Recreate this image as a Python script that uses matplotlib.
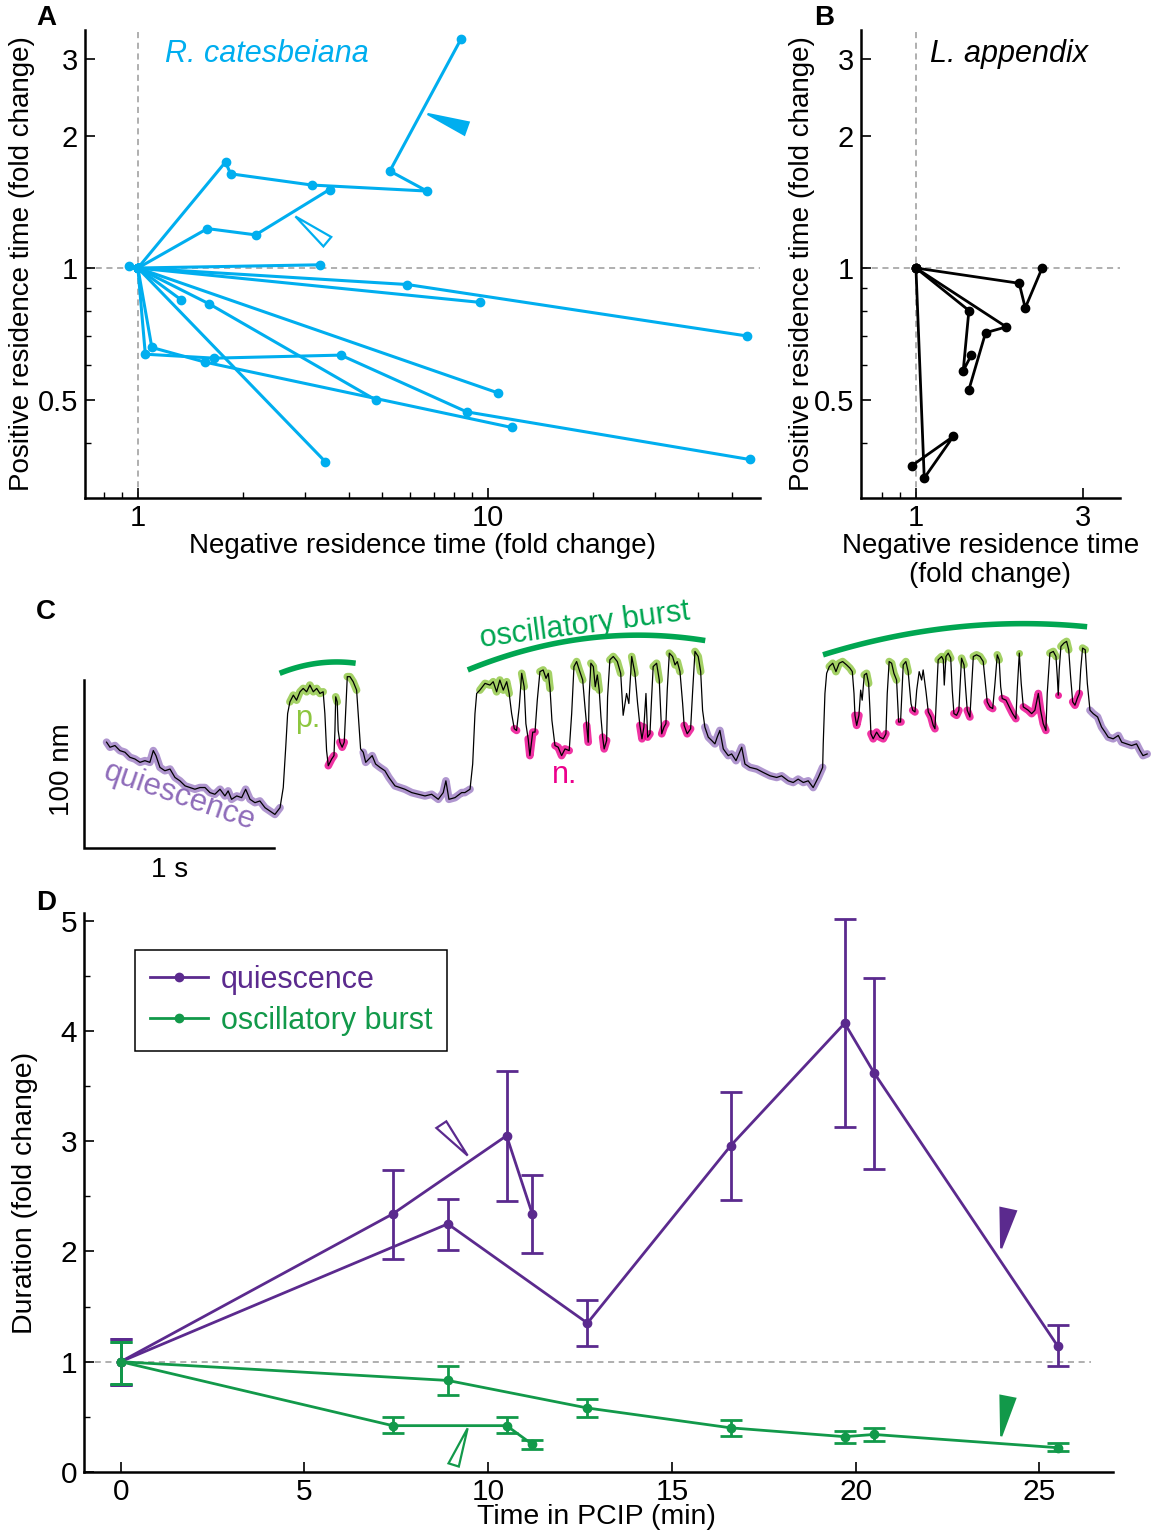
import numpy as np
import matplotlib
matplotlib.use("Agg")
import matplotlib.pyplot as plt
from matplotlib.patches import Polygon
from matplotlib.lines import Line2D
from matplotlib.ticker import NullFormatter

plt.rcParams['font.family'] = ['Liberation Sans', 'DejaVu Sans']

CYAN = '#00aeef'
PURPLE = '#5b2a8e'
GREEN = '#12994a'
ARC_GREEN = '#00a651'
Q_COL = '#9c7cc4'
P_COL = '#8dc63f'
N_COL = '#ec008c'
DASH = '#9a9a9a'

# ---- panel A: R. catesbeiana trajectories (negative / positive residence, fold change)
FROG_NEG = [
    [1, 1.78, 1.84, 3.14, 6.70, 5.25, 8.39],
    [1, 1.58, 2.17, 3.53],
    [1, 3.31],
    [1, 5.89, 55.0],
    [1, 9.5],
    [1, 1.33],
    [1, 10.7],
    [1, 1.60, 4.79],
    [1, 1.096, 1.557, 11.7],
    [1, 1.05, 1.65, 3.8, 8.7, 56.0],
    [1, 3.43],
    [1, 0.943],
]
FROG_POS = [
    [1, 1.745, 1.64, 1.546, 1.498, 1.664, 3.33],
    [1, 1.23, 1.19, 1.51],
    [1, 1.017],
    [1, 0.917, 0.70],
    [1, 0.835],
    [1, 0.846],
    [1, 0.519],
    [1, 0.828, 0.50],
    [1, 0.659, 0.61, 0.433],
    [1, 0.636, 0.623, 0.633, 0.47, 0.366],
    [1, 0.362],
    [1, 1.01],
]

# ---- panel B: L. appendix trajectories
LOB_NEG = [
    [1, 1.97, 2.05, 2.29],
    [1, 1.416, 1.364, 1.44],
    [1, 1.81, 1.58, 1.416],
    [1, 1.056, 1.278, 0.972],
]
LOB_POS = [
    [1, 0.923, 0.811, 1.0],
    [1, 0.80, 0.583, 0.634],
    [1, 0.734, 0.712, 0.528],
    [1, 0.332, 0.413, 0.354],
]

# ---- panel C: displacement trace (time s, displacement nm), split in runs
# Q = quiescence, P = positive, N = negative, T = transition
TRACE_RUNS = [
    ('Q', [0.119, 0.137, 0.163, 0.189, 0.216, 0.242, 0.268, 0.295, 0.321, 0.347,
           0.365, 0.379, 0.400, 0.426, 0.453, 0.479, 0.505, 0.532, 0.558, 0.584,
           0.611, 0.637, 0.663, 0.689, 0.716, 0.742, 0.759, 0.777, 0.804, 0.830,
           0.851, 0.874, 0.900, 0.926, 0.953, 0.979, 1.005, 1.032],
          [63, 60, 61, 58, 57, 54, 53, 51, 52, 51, 58, 55, 48, 46, 47, 42, 40, 37, 36, 35,
           36, 36, 33, 32, 35, 31, 34, 29, 31, 30, 35, 29, 27, 28, 24, 22, 20, 24]),
    ('T', [1.049, 1.062, 1.072], [36, 60, 80]),
    ('P', [1.084, 1.102, 1.119, 1.137, 1.154, 1.172, 1.189, 1.207, 1.225, 1.242, 1.259],
          [87, 91, 88, 93, 95, 93, 97, 93, 95, 92, 93]),
    ('T', [1.268, 1.277], [80, 58]),
    ('N', [1.286, 1.304, 1.316], [49, 53, 55]),
    ('T', [1.321], [70]),
    ('P', [1.325, 1.333], [90, 87]),
    ('T', [1.338], [70]),
    ('N', [1.347, 1.359, 1.370], [63, 60, 63]),
    ('T', [1.377], [80]),
    ('P', [1.386, 1.400, 1.417, 1.435], [102, 102, 99, 94]),
    ('T', [1.447, 1.456], [74, 59]),
    ('Q', [1.470, 1.483, 1.500, 1.517, 1.535, 1.558, 1.584, 1.605, 1.637, 1.663,
           1.689, 1.725, 1.759, 1.795, 1.830, 1.865, 1.891, 1.905, 1.921, 1.953,
           1.988, 2.005, 2.032],
          [57, 51, 53, 55, 50, 48, 46, 42, 37, 36, 35, 33, 32, 31, 32, 29, 33, 40, 29, 30,
           33, 33, 35]),
    ('T', [2.046, 2.058, 2.067], [50, 80, 92]),
    ('P', [2.084, 2.111, 2.137, 2.154, 2.172, 2.189, 2.207, 2.225, 2.238],
          [94, 98, 97, 99, 93, 100, 94, 99, 92]),
    ('T', [2.251], [80]),
    ('N', [2.265, 2.277], [71, 70]),
    ('T', [2.291], [84]),
    ('P', [2.304, 2.317], [104, 96]),
    ('T', [2.326], [74]),
    ('N', [2.338, 2.347, 2.362, 2.374], [65, 55, 69, 69]),
    ('T', [2.386], [88]),
    ('P', [2.400, 2.417, 2.432, 2.444, 2.453], [105, 106, 101, 104, 95]),
    ('T', [2.463], [76]),
    ('N', [2.479, 2.496, 2.514, 2.532, 2.554], [61, 60, 55, 59, 58]),
    ('T', [2.567], [80]),
    ('P', [2.579, 2.593, 2.607, 2.625], [108, 111, 106, 100]),
    ('T', [2.637], [84]),
    ('N', [2.646, 2.654], [73, 63]),
    ('T', [2.659], [90]),
    ('P', [2.668, 2.681, 2.691, 2.702, 2.712], [110, 108, 96, 103, 94]),
    ('T', [2.721], [78]),
    ('N', [2.730, 2.738, 2.751], [66, 59, 64]),
    ('T', [2.756], [90]),
    ('P', [2.768, 2.786, 2.807, 2.825], [112, 114, 111, 104]),
    ('T', [2.838, 2.856, 2.868], [79, 92, 86]),
    ('P', [2.883, 2.900], [114, 104]),
    ('T', [2.914], [86]),
    ('N', [2.926, 2.937, 2.947], [73, 65, 72]),
    ('T', [2.958], [92]),
    ('N', [2.967, 2.979], [66, 68]),
    ('T', [2.988], [90]),
    ('P', [2.996, 3.014, 3.028], [108, 110, 100]),
    ('T', [3.035], [82]),
    ('N', [3.041, 3.053, 3.063], [68, 72, 74]),
    ('T', [3.070], [94]),
    ('P', [3.081, 3.098, 3.111, 3.123, 3.137], [116, 114, 109, 111, 105]),
    ('T', [3.151], [86]),
    ('N', [3.159, 3.175, 3.193], [73, 68, 71]),
    ('T', [3.204], [94]),
    ('P', [3.216, 3.233, 3.246], [117, 114, 105]),
    ('T', [3.256], [82]),
    ('Q', [3.268, 3.286, 3.304, 3.321, 3.333, 3.347, 3.365, 3.391, 3.409, 3.432,
           3.462, 3.479, 3.505, 3.541, 3.575, 3.611, 3.646, 3.672, 3.707, 3.733,
           3.759, 3.786, 3.812, 3.838, 3.865, 3.888],
          [72, 66, 64, 62, 66, 70, 59, 55, 56, 52, 60, 50, 48, 47, 45, 43, 42, 43, 40, 39,
           41, 39, 40, 36, 42, 48]),
    ('T', [3.891, 3.900, 3.909], [62, 92, 104]),
    ('P', [3.923, 3.941, 3.958, 3.975, 3.993, 4.014, 4.032, 4.044],
          [108, 110, 105, 110, 111, 109, 107, 105]),
    ('T', [4.053], [92]),
    ('N', [4.058, 4.067, 4.079], [79, 73, 79]),
    ('T', [4.088, 4.096], [94, 88]),
    ('P', [4.107, 4.119, 4.130], [103, 104, 98]),
    ('T', [4.137], [82]),
    ('N', [4.142, 4.154, 4.172, 4.189, 4.207, 4.221], [68, 65, 69, 66, 65, 68]),
    ('T', [4.228], [92]),
    ('P', [4.238, 4.251, 4.263, 4.277], [111, 110, 104, 100]),
    ('T', [4.283], [86]),
    ('N', [4.288, 4.298], [75, 75]),
    ('T', [4.305], [92]),
    ('P', [4.312, 4.326, 4.338], [109, 111, 105]),
    ('T', [4.353], [86]),
    ('N', [4.362, 4.374], [82, 81]),
    ('T', [4.383, 4.396, 4.409, 4.417, 4.432], [94, 105, 100, 106, 93]),
    ('N', [4.444, 4.458, 4.470, 4.479], [81, 78, 73, 71]),
    ('T', [4.488], [92]),
    ('P', [4.496, 4.514, 4.523], [112, 114, 112]),
    ('T', [4.528], [97]),
    ('P', [4.537, 4.549, 4.562], [114, 116, 113]),
    ('T', [4.570], [94]),
    ('N', [4.579, 4.593, 4.605], [80, 79, 82]),
    ('T', [4.611], [96]),
    ('P', [4.619, 4.632], [113, 109]),
    ('T', [4.641], [94]),
    ('N', [4.649, 4.663], [82, 78]),
    ('T', [4.672], [96]),
    ('P', [4.681, 4.698, 4.716, 4.733], [114, 115, 114, 111]),
    ('T', [4.746], [96]),
    ('N', [4.754, 4.768, 4.783], [87, 84, 83]),
    ('T', [4.795], [98]),
    ('P', [4.807, 4.817], [115, 112]),
    ('T', [4.825], [96]),
    ('N', [4.833, 4.853, 4.870, 4.888, 4.905], [89, 88, 84, 80, 77]),
    ('T', [4.912], [94]),
    ('P', [4.923], [116]),
    ('T', [4.933], [98]),
    ('N', [4.944, 4.970, 4.988, 5.005, 5.023, 5.035, 5.049, 5.063],
          [84, 82, 80, 82, 92, 82, 74, 70]),
    ('T', [5.070], [92]),
    ('P', [5.084, 5.102, 5.116], [116, 117, 114]),
    ('T', [5.123], [102]),
    ('N', [5.128], [91]),
    ('T', [5.133], [106]),
    ('P', [5.142, 5.158, 5.172, 5.183], [120, 122, 123, 118]),
    ('T', [5.193], [102]),
    ('N', [5.204, 5.216, 5.228, 5.239], [87, 85, 89, 92]),
    ('T', [5.246], [106]),
    ('P', [5.256, 5.270], [119, 118]),
    ('T', [5.281], [98]),
    ('Q', [5.295, 5.312, 5.335, 5.356, 5.374, 5.391, 5.417, 5.444, 5.462, 5.488,
           5.514, 5.540, 5.558, 5.574, 5.596],
          [82, 80, 78, 72, 69, 66, 65, 67, 63, 62, 61, 62, 58, 55, 56]),
]
# burst brackets: start, middle, end (time s, nm)
BURST_START = [(1.03, 104), (2.02, 106), (3.89, 115)]
BURST_MID = [(1.23, 110), (2.645, 124.8), (4.584, 131.4)]
BURST_END = [(1.43, 110), (3.27, 123.5), (5.28, 131.7)]

# ---- panel D: duration fold change vs time in PCIP
Q1_T = [0, 7.4, 10.5, 11.2]
Q1_Y = [1.0, 2.34, 3.05, 2.34]
Q1_LO = [0.79, 1.93, 2.46, 1.99]
Q1_HI = [1.21, 2.74, 3.64, 2.69]
Q2_T = [0, 8.9, 12.7, 16.6, 19.7, 20.5, 25.5]
Q2_Y = [1.0, 2.25, 1.35, 2.96, 4.07, 3.62, 1.14]
Q2_LO = [0.79, 2.01, 1.14, 2.47, 3.13, 2.75, 0.96]
Q2_HI = [1.21, 2.48, 1.56, 3.45, 5.02, 4.48, 1.33]
B1_Y = [1.0, 0.42, 0.42, 0.25]
B1_LO = [0.80, 0.35, 0.35, 0.21]
B1_HI = [1.18, 0.50, 0.50, 0.29]
B2_Y = [1.0, 0.83, 0.58, 0.40, 0.32, 0.34, 0.22]
B2_LO = [0.80, 0.70, 0.50, 0.33, 0.26, 0.28, 0.19]
B2_HI = [1.18, 0.96, 0.66, 0.47, 0.37, 0.40, 0.26]


def style_axes(ax, size):
    for s in ['top', 'right']:
        ax.spines[s].set_visible(False)
    for s in ['left', 'bottom']:
        ax.spines[s].set_linewidth(1.8)
    ax.tick_params(which='major', direction='in', length=7, width=1.2, labelsize=size, pad=5)
    ax.tick_params(which='minor', direction='in', length=4, width=1.0)


def arrowhead(ax, pts, color, filled):
    ax.add_patch(Polygon(pts, closed=True, facecolor=color if filled else 'white',
                         edgecolor=color, lw=1.6, zorder=5))


fig = plt.figure(figsize=(11.58, 15.36), dpi=100)

# ---------------- A
axA = fig.add_axes([0.0734, 0.6758, 0.5829, 0.3047])
axA.set_xscale('log')
axA.set_yscale('log')
axA.axhline(1, color=DASH, ls=(0, (4, 3)), lw=1.1, zorder=0)
axA.axvline(1, color=DASH, ls=(0, (4, 3)), lw=1.1, zorder=0)
for xs, ys in zip(FROG_NEG, FROG_POS):
    axA.plot(xs, ys, '-o', color=CYAN, lw=2.2, ms=6, clip_on=False)
axA.set_xlim(0.706, 60)
axA.set_ylim(0.299, 3.49)
style_axes(axA, 21)
axA.tick_params(axis='x', pad=4)
axA.set_xticks([1, 10], ['1', '10'])
axA.set_xticks([0.8, 0.9, 2, 3, 4, 5, 6, 7, 8, 9, 20, 30, 40, 50], minor=True)
axA.set_yticks([0.5, 1, 2, 3], ['0.5', '1', '2', '3'])
axA.set_yticks([0.4, 0.6, 0.7, 0.8, 0.9], minor=True)
axA.xaxis.set_minor_formatter(NullFormatter())
axA.yaxis.set_minor_formatter(NullFormatter())
axA.set_xlabel('Negative residence time (fold change)', fontsize=20)
axA.set_ylabel('Positive residence time (fold change)', fontsize=20)
axA.xaxis.set_label_coords(0.5, -0.075)
axA.yaxis.set_label_coords(-0.074, 0.5)
axA.text(0.1185, 0.949, 'R. catesbeiana', transform=axA.transAxes, style='italic',
         color=CYAN, fontsize=22, va='center', ha='left')
arrowhead(axA, [(6.73, 2.245), (8.82, 2.148), (8.57, 2.014)], CYAN, True)
arrowhead(axA, [(2.82, 1.311), (3.57, 1.177), (3.39, 1.12)], CYAN, False)

# ---------------- B
axB = fig.add_axes([0.7435, 0.6758, 0.2237, 0.3047])
axB.set_xscale('log')
axB.set_yscale('log')
axB.axhline(1, color=DASH, ls=(0, (4, 3)), lw=1.1, zorder=0)
axB.axvline(1, color=DASH, ls=(0, (4, 3)), lw=1.1, zorder=0)
for xs, ys in zip(LOB_NEG, LOB_POS):
    axB.plot(xs, ys, '-o', color='black', lw=2.0, ms=6, clip_on=False)
axB.set_xlim(0.697, 3.82)
axB.set_ylim(0.299, 3.49)
style_axes(axB, 21)
axB.tick_params(axis='x', pad=4)
axB.set_xticks([1, 3], ['1', '3'])
axB.set_xticks([0.8, 0.9], minor=True)
axB.set_yticks([0.5, 1, 2, 3], ['0.5', '1', '2', '3'])
axB.set_yticks([0.4, 0.6, 0.7, 0.8, 0.9], minor=True)
axB.xaxis.set_minor_formatter(NullFormatter())
axB.yaxis.set_minor_formatter(NullFormatter())
axB.set_xlabel('Negative residence time\n(fold change)', fontsize=20, linespacing=1.15)
axB.set_ylabel('Positive residence time (fold change)', fontsize=20)
axB.xaxis.set_label_coords(0.5, -0.075)
axB.yaxis.set_label_coords(-0.178, 0.5)
axB.text(0.266, 0.949, 'L. appendix', transform=axB.transAxes, style='italic',
         color='black', fontsize=22, va='center', ha='left')

# ---------------- C
axC = fig.add_axes([0.0725, 0.4466, 0.9275, 0.153])
axC.set_xlim(0, 5.653)
axC.set_ylim(-1.19, 138.7)
axC.axis('off')
all_t = [t for _, ts, _ in TRACE_RUNS for t in ts]
all_nm = [v for _, _, vs in TRACE_RUNS for v in vs]
axC.plot(all_t, all_nm, color='black', lw=0.9, zorder=3)
hi_col = {'Q': Q_COL, 'P': P_COL, 'N': N_COL}
for state, ts, vs in TRACE_RUNS:
    if state == 'T':
        continue
    if len(ts) == 1:
        axC.plot(ts, vs, 'o', color=hi_col[state], ms=5, alpha=0.85, mec='none', zorder=2)
    else:
        axC.plot(ts, vs, color=hi_col[state], lw=5.5, alpha=0.8,
                 solid_capstyle='round', solid_joinstyle='round', zorder=2)
# burst brackets (quadratic curves through start / middle / end)
s = np.linspace(0, 1, 60)
for p0, m, p2 in zip(BURST_START, BURST_MID, BURST_END):
    p0, m, p2 = np.array(p0), np.array(m), np.array(p2)
    c = 2 * m - 0.5 * (p0 + p2)
    curve = ((1 - s) ** 2)[:, None] * p0 + (2 * s * (1 - s))[:, None] * c + (s ** 2)[:, None] * p2
    axC.plot(curve[:, 0], curve[:, 1], color=ARC_GREEN, lw=4, solid_capstyle='butt')
axC.text(2.642, 128, 'oscillatory burst', color=ARC_GREEN, fontsize=22, rotation=7.5,
         ha='center', va='baseline', rotation_mode='anchor')
axC.text(0.505, 30.4, 'quiescence', color='#8f6cba', fontsize=22.5, rotation=-19,
         ha='center', va='center', rotation_mode='anchor')
axC.text(1.18, 77, 'p.', color=P_COL, fontsize=22, ha='center', va='center')
axC.text(2.532, 43.5, 'n.', color=N_COL, fontsize=22, ha='center', va='center')
# scale bar
axC.plot([0, 0, 1], [100, 0, 0], color='black', lw=1.8, clip_on=False, solid_joinstyle='miter')
axC.text(-0.116, 46.4, '100 nm', rotation=90, fontsize=20, ha='center', va='center')
axC.text(0.453, -13.1, '1 s', fontsize=20, ha='center', va='center')

# ---------------- D
axD = fig.add_axes([0.0725, 0.0417, 0.8886, 0.3639])
axD.hlines(1, -1, 26.4, color=DASH, ls=(0, (4, 3)), lw=1.1, zorder=0)
eb = dict(fmt='-o', lw=2, ms=6, capsize=8, elinewidth=2, capthick=2, clip_on=False)
axD.errorbar(Q1_T, Q1_Y, yerr=[np.subtract(Q1_Y, Q1_LO), np.subtract(Q1_HI, Q1_Y)], color=PURPLE, **eb)
axD.errorbar(Q2_T, Q2_Y, yerr=[np.subtract(Q2_Y, Q2_LO), np.subtract(Q2_HI, Q2_Y)], color=PURPLE, **eb)
axD.errorbar(Q1_T, B1_Y, yerr=[np.subtract(B1_Y, B1_LO), np.subtract(B1_HI, B1_Y)], color=GREEN, **eb)
axD.errorbar(Q2_T, B2_Y, yerr=[np.subtract(B2_Y, B2_LO), np.subtract(B2_HI, B2_Y)], color=GREEN, **eb)
axD.set_xlim(-1, 27)
axD.set_ylim(0, 5.07)
style_axes(axD, 21.5)
axD.set_xticks([0, 5, 10, 15, 20, 25])
axD.set_yticks([0, 1, 2, 3, 4, 5])
axD.set_yticks([0.5, 1.5, 2.5, 3.5, 4.5], minor=True)
axD.tick_params(axis='y', pad=5)
axD.tick_params(axis='x', pad=4)
axD.set_xlabel('Time in PCIP (min)', fontsize=20.5)
axD.set_ylabel('Duration (fold change)', fontsize=20.5)
axD.xaxis.set_label_coords(0.4976, -0.057)
axD.yaxis.set_label_coords(-0.0447, 0.5)
arrowhead(axD, [(8.59, 3.12), (8.86, 3.18), (9.44, 2.87)], PURPLE, False)
arrowhead(axD, [(8.92, 0.078), (9.20, 0.049), (9.44, 0.396)], GREEN, False)
arrowhead(axD, [(23.94, 2.395), (24.36, 2.365), (23.96, 2.03)], PURPLE, True)
arrowhead(axD, [(23.94, 0.691), (24.34, 0.665), (23.96, 0.325)], GREEN, True)
handles = [Line2D([], [], color=PURPLE, marker='o', lw=2, ms=6),
           Line2D([], [], color=GREEN, marker='o', lw=2, ms=6)]
leg = axD.legend(handles, ['quiescence', 'oscillatory burst'], loc='upper left',
                 bbox_to_anchor=(0.0496, 0.934), borderaxespad=0, fontsize=22,
                 handlelength=1.9, handletextpad=0.4, labelspacing=0.35,
                 borderpad=0.5, fancybox=False, framealpha=1, edgecolor='black')
leg.get_frame().set_linewidth(1.1)
for txt, col in zip(leg.get_texts(), [PURPLE, GREEN]):
    txt.set_color(col)

# panel letters
for lab, x, y in [('A', 46, 18), ('B', 824, 18), ('C', 46, 612), ('D', 46, 903)]:
    fig.text(x / 1158, 1 - y / 1536, lab, fontsize=20, fontweight='bold', ha='center', va='center')

fig.savefig('out.png', dpi=100)
